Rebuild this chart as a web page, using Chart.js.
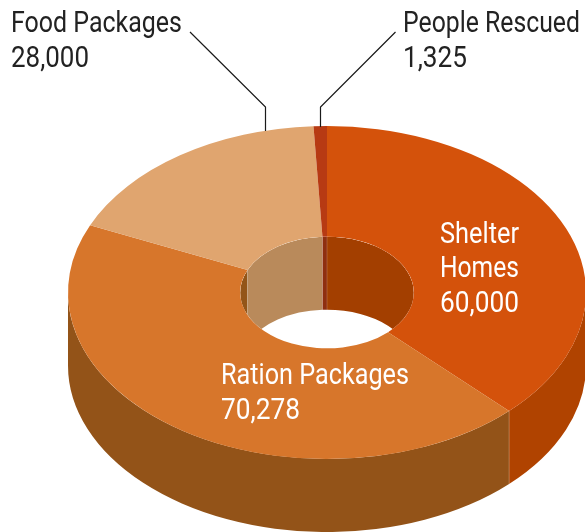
<!DOCTYPE html>
<html><head><meta charset="utf-8">
<style>html,body{margin:0;padding:0;background:#fff}canvas{display:block}</style>
<script src="https://cdn.jsdelivr.net/npm/chart.js@4"></script></head>
<body><canvas id="c" width="585" height="532"></canvas>
<script>
const categories = ["Shelter Homes", "Ration Packages", "Food Packages", "People Rescued"];
const values = [60000, 70278, 28000, 1325];
const topColors = ["#D4520B", "#D7762B", "#E0A56F", "#B73A13"];
const outerWallColors = ["#B04300", "#935318", "#935318", "#8F2F10"];
const innerWallColors = ["#A33F00", "#935518", "#B98A5B", "#8F2F10"];

const TILT = 0.643, CY = 292.5, DEPTH = 73;
const FONT = 'Roboto, sans-serif';
function fmt(v){ return v.toLocaleString('en-US'); }
function text(ctx, s, x, y, w, color){
  ctx.save();
  ctx.font = '400 29px ' + FONT;
  ctx.fillStyle = color;
  ctx.textAlign = 'left';
  ctx.textBaseline = 'alphabetic';
  const m = ctx.measureText(s).width;
  ctx.translate(x, y);
  ctx.scale(w / m, 1);
  ctx.fillText(s, 0, 0);
  ctx.restore();
}
const pie3d = {
  id: 'pie3d',
  beforeDatasetsDraw(chart) {
    const ctx = chart.ctx;
    const arcs = chart.getDatasetMeta(0).data;
    const e0 = arcs[0];
    const cx = e0.x, cy0 = e0.y, R = e0.outerRadius, r = e0.innerRadius;
    const enter = () => { ctx.translate(0, CY - cy0 * TILT); ctx.scale(1, TILT); };
    const off = DEPTH / TILT;
    const wall = (rad, a0, a1) => {
      ctx.save(); enter();
      ctx.beginPath();
      ctx.arc(cx, cy0 + off, rad, a0, a1);
      ctx.arc(cx, cy0, rad, a1, a0, true);
      ctx.closePath();
      ctx.restore();
    };
    const overlap = (e, lo, hi) => {
      const a = Math.max(e.startAngle, lo), b = Math.min(e.endAngle, hi);
      return b > a ? [a, b] : null;
    };
    // outer wall: near half of the rim
    arcs.forEach((e, i) => {
      const s = overlap(e, 0, Math.PI);
      if (s) { wall(R, s[0], s[1]); ctx.fillStyle = outerWallColors[i]; ctx.fill(); }
    });
    // seam on outer wall
    ctx.strokeStyle = 'rgba(255,255,255,0.22)'; ctx.lineWidth = 1;
    const a = arcs[0].endAngle;
    const sx = cx + R * Math.cos(a), sy = CY + R * TILT * Math.sin(a);
    ctx.beginPath(); ctx.moveTo(sx, sy); ctx.lineTo(sx, sy + DEPTH); ctx.stroke();
    // inner wall: far half of the hole, clipped to the hole
    ctx.save();
    ctx.save(); enter(); ctx.beginPath(); ctx.arc(cx, cy0, r, 0, Math.PI * 2); ctx.restore();
    ctx.clip();
    arcs.forEach((e, i) => {
      [[-Math.PI / 2, 0], [Math.PI, 3 * Math.PI / 2]].forEach(([lo, hi]) => {
        const s = overlap(e, lo, hi);
        if (s) { wall(r, s[0], s[1]); ctx.fillStyle = innerWallColors[i]; ctx.fill(); }
      });
    });
    ctx.strokeStyle = 'rgba(255,255,255,0.18)'; ctx.lineWidth = 1;
    arcs.forEach(e => {
      const b = e.endAngle;
      const px = cx + r * Math.cos(b), py = CY + r * TILT * Math.sin(b);
      if (Math.sin(b) < 0) { ctx.beginPath(); ctx.moveTo(px, py); ctx.lineTo(px, py + DEPTH); ctx.stroke(); }
    });
    ctx.restore();
    // top face
    arcs.forEach((e, i) => {
      ctx.save(); enter();
      ctx.beginPath();
      ctx.arc(cx, cy0, R, e.startAngle, e.endAngle);
      ctx.arc(cx, cy0, r, e.endAngle, e.startAngle, true);
      ctx.closePath();
      ctx.restore();
      ctx.fillStyle = topColors[i]; ctx.fill();
    });
    return false;
  },
  afterDraw(chart) {
    const ctx = chart.ctx;
    ctx.save();
    ctx.strokeStyle = '#1a1a1a'; ctx.lineWidth = 1.2;
    ctx.beginPath(); ctx.moveTo(190, 32); ctx.lineTo(265.5, 107); ctx.lineTo(265.5, 131); ctx.stroke();
    ctx.beginPath(); ctx.moveTo(395.5, 32); ctx.lineTo(320.5, 107); ctx.lineTo(320.5, 127); ctx.stroke();
    ctx.restore();
    const dark = '#222', white = '#fff';
    text(ctx, categories[2], 11, 32, 171, dark);
    text(ctx, fmt(values[2]), 11, 67, 78, dark);
    text(ctx, categories[3], 403, 32, 177, dark);
    text(ctx, fmt(values[3]), 403, 67, 64, dark);
    const sh = categories[0].split(' ');
    text(ctx, sh[0], 440, 243, 79, white);
    text(ctx, sh[1], 440, 277, 79, white);
    text(ctx, fmt(values[0]), 440, 312, 79, white);
    text(ctx, categories[1], 221, 384, 188, white);
    text(ctx, fmt(values[1]), 221, 419, 79, white);
  }
};
new Chart(document.getElementById('c'), {
  type: 'doughnut',
  data: { labels: categories, datasets: [{ data: values, backgroundColor: topColors, borderWidth: 0 }] },
  options: {
    responsive: false, animation: false, radius: 259, cutout: 86.5, rotation: 0,
    layout: { padding: { left: 69, top: 8, bottom: 8 } },
    plugins: { legend: { display: false }, tooltip: { enabled: false }, title: { display: false } }
  },
  plugins: [pie3d]
});
</script></body></html>
